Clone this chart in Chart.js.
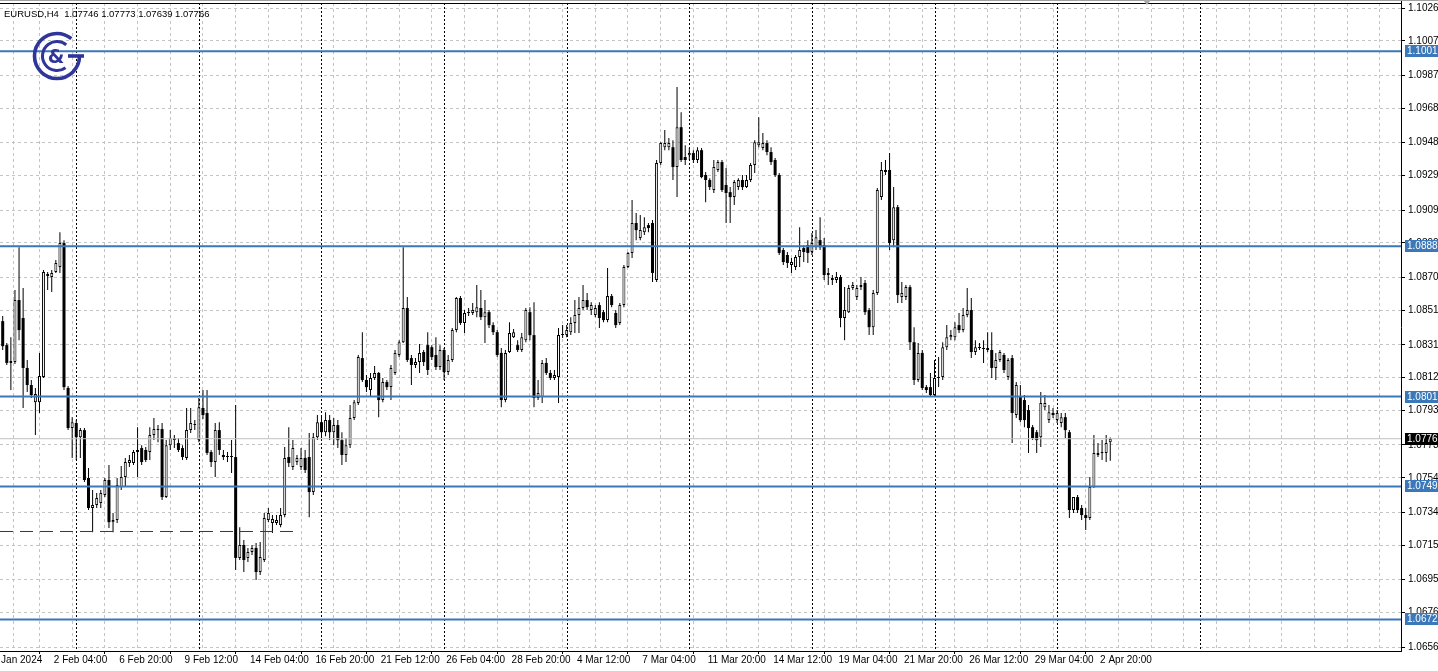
<!DOCTYPE html>
<html>
<head>
<meta charset="utf-8">
<script src="https://cdn.jsdelivr.net/npm/chart.js@4.4.1/dist/chart.umd.min.js"></script>
<style>
  html, body { margin: 0; padding: 0; background: #ffffff; }
  #wrap { width: 1438px; height: 671px; }
</style>
</head>
<body>
<div id="wrap"><canvas id="chart" width="1438" height="671"></canvas></div>
<script>
// EURUSD H4 candles, oldest first
const open = [
  1.08447, 1.08308, 1.08205, 1.08210, 1.08569, 1.08465, 1.08176, 1.08077, 1.07978, 1.07978,
  1.08123, 1.08708, 1.08702, 1.08731, 1.08760, 1.08899, 1.08060, 1.07828, 1.07857, 1.07775,
  1.07816, 1.07539, 1.07365, 1.07382, 1.07394, 1.07440, 1.07527, 1.07283, 1.07295, 1.07486,
  1.07544, 1.07626, 1.07626, 1.07689, 1.07712, 1.07701, 1.07689, 1.07787, 1.07816, 1.07822,
  1.07428, 1.07729, 1.07758, 1.07741, 1.07712, 1.07655, 1.07816, 1.07845, 1.07758, 1.07944,
  1.07915, 1.07689, 1.07631, 1.07816, 1.07672, 1.07660, 1.07660, 1.07660, 1.07076, 1.07151,
  1.07076, 1.07110, 1.07134, 1.06994, 1.07064, 1.07295, 1.07278, 1.07278, 1.07266, 1.07324,
  1.07660, 1.07602, 1.07631, 1.07602, 1.07655, 1.07660, 1.07457, 1.07775, 1.07862, 1.07804,
  1.07874, 1.07804, 1.07845, 1.07758, 1.07672, 1.07729, 1.07886, 1.07973, 1.08233, 1.08106,
  1.08048, 1.08118, 1.08147, 1.07990, 1.08094, 1.08065, 1.08147, 1.08251, 1.08325, 1.08523,
  1.08233, 1.08193, 1.08210, 1.08268, 1.08308, 1.08296, 1.08251, 1.08181, 1.08280, 1.08152,
  1.08222, 1.08395, 1.08581, 1.08436, 1.08494, 1.08494, 1.08499, 1.08523, 1.08470, 1.08499,
  1.08424, 1.08383, 1.08263, 1.07990, 1.08268, 1.08354, 1.08308, 1.08280, 1.08337, 1.08499,
  1.08366, 1.08002, 1.08007, 1.08205, 1.08147, 1.08118, 1.08123, 1.08366, 1.08366, 1.08383,
  1.08436, 1.08482, 1.08523, 1.08569, 1.08511, 1.08482, 1.08540, 1.08499, 1.08453, 1.08592,
  1.08494, 1.08436, 1.08540, 1.08760, 1.08842, 1.09015, 1.08928, 1.08962, 1.09003, 1.09015,
  1.08685, 1.09363, 1.09454, 1.09454, 1.09454, 1.09339, 1.09570, 1.09397, 1.09408, 1.09420,
  1.09380, 1.09437, 1.09293, 1.09264, 1.09206, 1.09322, 1.09368, 1.09235, 1.09194, 1.09165,
  1.09223, 1.09264, 1.09223, 1.09264, 1.09351, 1.09466, 1.09449, 1.09478, 1.09426, 1.09380,
  1.09293, 1.08859, 1.08830, 1.08772, 1.08760, 1.08818, 1.08870, 1.08887, 1.08847, 1.08875,
  1.08916, 1.08887, 1.08714, 1.08685, 1.08685, 1.08702, 1.08465, 1.08499, 1.08639, 1.08586,
  1.08644, 1.08668, 1.08511, 1.08412, 1.08610, 1.09165, 1.09310, 1.09322, 1.08916, 1.09107,
  1.08586, 1.08586, 1.08644, 1.08325, 1.08106, 1.08263, 1.08065, 1.08065, 1.08019, 1.08118,
  1.08123, 1.08296, 1.08354, 1.08354, 1.08424, 1.08395, 1.08482, 1.08511, 1.08268, 1.08291,
  1.08285, 1.08280, 1.08280, 1.08176, 1.08222, 1.08251, 1.08123, 1.08233, 1.07903, 1.08007,
  1.07990, 1.07932, 1.07833, 1.07804, 1.07775, 1.07949, 1.07874, 1.07915, 1.07874, 1.07857,
  1.07891, 1.07804, 1.07353, 1.07428, 1.07365, 1.07324, 1.07307, 1.07486, 1.07672, 1.07684,
  1.07684, 1.07746
];
const high = [
  1.08476, 1.08320, 1.08354, 1.08627, 1.08875, 1.08639, 1.08222, 1.08106, 1.08060, 1.08263,
  1.08743, 1.08731, 1.08743, 1.08801, 1.08962, 1.08916, 1.08071, 1.07891, 1.07874, 1.07828,
  1.07828, 1.07597, 1.07469, 1.07452, 1.07469, 1.07539, 1.07614, 1.07336, 1.07539, 1.07608,
  1.07655, 1.07672, 1.07701, 1.07833, 1.07729, 1.07718, 1.07833, 1.07886, 1.07845, 1.07857,
  1.07758, 1.07816, 1.07787, 1.07770, 1.07729, 1.07944, 1.07944, 1.07874, 1.08002, 1.08048,
  1.08048, 1.07701, 1.07857, 1.07862, 1.07701, 1.07689, 1.07758, 1.07961, 1.07254, 1.07180,
  1.07134, 1.07151, 1.07163, 1.07168, 1.07336, 1.07365, 1.07324, 1.07324, 1.07365, 1.07718,
  1.07833, 1.07758, 1.07672, 1.07712, 1.07701, 1.07799, 1.07799, 1.07903, 1.07903, 1.07920,
  1.07903, 1.07886, 1.07874, 1.07804, 1.07770, 1.07961, 1.07990, 1.08251, 1.08383, 1.08135,
  1.08147, 1.08187, 1.08152, 1.08118, 1.08106, 1.08193, 1.08280, 1.08337, 1.08875, 1.08586,
  1.08251, 1.08233, 1.08314, 1.08280, 1.08383, 1.08308, 1.08354, 1.08308, 1.08291, 1.08251,
  1.08407, 1.08586, 1.08592, 1.08511, 1.08523, 1.08552, 1.08656, 1.08627, 1.08569, 1.08511,
  1.08441, 1.08395, 1.08291, 1.08280, 1.08441, 1.08401, 1.08337, 1.08378, 1.08523, 1.08528,
  1.08557, 1.08106, 1.08222, 1.08233, 1.08164, 1.08164, 1.08407, 1.08424, 1.08424, 1.08470,
  1.08569, 1.08586, 1.08656, 1.08610, 1.08557, 1.08540, 1.08557, 1.08511, 1.08755, 1.08604,
  1.08511, 1.08552, 1.08772, 1.08847, 1.09148, 1.09073, 1.09061, 1.09049, 1.09015, 1.09032,
  1.09380, 1.09483, 1.09553, 1.09507, 1.09495, 1.09802, 1.09657, 1.09466, 1.09449, 1.09437,
  1.09454, 1.09449, 1.09310, 1.09275, 1.09380, 1.09380, 1.09380, 1.09333, 1.09223, 1.09264,
  1.09275, 1.09293, 1.09293, 1.09363, 1.09495, 1.09628, 1.09536, 1.09495, 1.09454, 1.09391,
  1.09305, 1.08870, 1.08847, 1.08813, 1.08830, 1.08991, 1.08887, 1.08916, 1.08957, 1.08974,
  1.09049, 1.08928, 1.08755, 1.08714, 1.08731, 1.08714, 1.08644, 1.08656, 1.08673, 1.08656,
  1.08702, 1.08685, 1.08523, 1.08627, 1.09218, 1.09368, 1.09380, 1.09420, 1.09223, 1.09119,
  1.08673, 1.08656, 1.08656, 1.08412, 1.08320, 1.08280, 1.08077, 1.08147, 1.08222, 1.08239,
  1.08325, 1.08424, 1.08395, 1.08441, 1.08494, 1.08523, 1.08639, 1.08581, 1.08337, 1.08320,
  1.08337, 1.08383, 1.08383, 1.08263, 1.08280, 1.08263, 1.08233, 1.08251, 1.08094, 1.08077,
  1.08019, 1.07961, 1.07845, 1.07816, 1.08036, 1.08019, 1.07961, 1.07944, 1.07932, 1.07915,
  1.07915, 1.07816, 1.07428, 1.07440, 1.07382, 1.07365, 1.07544, 1.07787, 1.07741, 1.07758,
  1.07787, 1.07773
];
const low = [
  1.08280, 1.08193, 1.08048, 1.08199, 1.08337, 1.07944, 1.08036, 1.08002, 1.07787, 1.07915,
  1.08118, 1.08627, 1.08615, 1.08726, 1.08726, 1.08048, 1.07816, 1.07655, 1.07643, 1.07655,
  1.07515, 1.07353, 1.07225, 1.07365, 1.07365, 1.07428, 1.07249, 1.07225, 1.07278, 1.07469,
  1.07486, 1.07602, 1.07614, 1.07544, 1.07614, 1.07631, 1.07643, 1.07758, 1.07746, 1.07411,
  1.07423, 1.07701, 1.07712, 1.07689, 1.07643, 1.07643, 1.07799, 1.07816, 1.07746, 1.07880,
  1.07672, 1.07602, 1.07544, 1.07672, 1.07643, 1.07631, 1.07568, 1.07006, 1.07064, 1.06994,
  1.07052, 1.07093, 1.06948, 1.06977, 1.07052, 1.07283, 1.07220, 1.07266, 1.07254, 1.07312,
  1.07602, 1.07585, 1.07614, 1.07585, 1.07568, 1.07312, 1.07440, 1.07758, 1.07770, 1.07781,
  1.07758, 1.07729, 1.07712, 1.07614, 1.07631, 1.07712, 1.07874, 1.07961, 1.08094, 1.08036,
  1.08007, 1.08106, 1.07891, 1.07978, 1.08048, 1.07990, 1.08135, 1.08239, 1.08320, 1.08210,
  1.08077, 1.08176, 1.08147, 1.08187, 1.08135, 1.08222, 1.08164, 1.08164, 1.08106, 1.08135,
  1.08210, 1.08383, 1.08424, 1.08378, 1.08476, 1.08482, 1.08470, 1.08453, 1.08320, 1.08407,
  1.08366, 1.08239, 1.07949, 1.07978, 1.08263, 1.08349, 1.08268, 1.08268, 1.08325, 1.08337,
  1.07949, 1.07990, 1.07973, 1.08135, 1.08106, 1.08106, 1.07973, 1.08349, 1.08354, 1.08366,
  1.08378, 1.08378, 1.08511, 1.08511, 1.08482, 1.08470, 1.08407, 1.08441, 1.08441, 1.08528,
  1.08407, 1.08424, 1.08528, 1.08755, 1.08813, 1.08916, 1.08916, 1.08945, 1.08962, 1.08673,
  1.08673, 1.09351, 1.09437, 1.09437, 1.09264, 1.09165, 1.09368, 1.09351, 1.09380, 1.09363,
  1.09363, 1.09275, 1.09136, 1.09206, 1.09189, 1.09310, 1.09194, 1.09015, 1.09015, 1.09119,
  1.09206, 1.09206, 1.09218, 1.09252, 1.09305, 1.09454, 1.09437, 1.09408, 1.09351, 1.09281,
  1.08830, 1.08772, 1.08755, 1.08726, 1.08743, 1.08760, 1.08789, 1.08784, 1.08830, 1.08859,
  1.08859, 1.08685, 1.08656, 1.08656, 1.08668, 1.08412, 1.08337, 1.08494, 1.08627, 1.08569,
  1.08627, 1.08482, 1.08366, 1.08366, 1.08598, 1.09148, 1.09293, 1.08859, 1.08875, 1.08552,
  1.08552, 1.08569, 1.08280, 1.08077, 1.08094, 1.08048, 1.08031, 1.08007, 1.08007, 1.08065,
  1.08106, 1.08280, 1.08337, 1.08337, 1.08378, 1.08383, 1.08470, 1.08233, 1.08251, 1.08280,
  1.08205, 1.08268, 1.08118, 1.08106, 1.08210, 1.08147, 1.08106, 1.07741, 1.07886, 1.07862,
  1.07833, 1.07684, 1.07758, 1.07684, 1.07718, 1.07932, 1.07857, 1.07886, 1.07857, 1.07833,
  1.07770, 1.07307, 1.07336, 1.07336, 1.07295, 1.07237, 1.07295, 1.07481, 1.07660, 1.07643,
  1.07631, 1.07639
];
const close = [
  1.08302, 1.08205, 1.08216, 1.08569, 1.08395, 1.08176, 1.08077, 1.08019, 1.08025, 1.08129,
  1.08731, 1.08720, 1.08726, 1.08784, 1.08899, 1.08065, 1.07828, 1.07862, 1.07775, 1.07816,
  1.07527, 1.07365, 1.07382, 1.07423, 1.07452, 1.07527, 1.07283, 1.07295, 1.07498, 1.07544,
  1.07631, 1.07643, 1.07689, 1.07701, 1.07631, 1.07643, 1.07787, 1.07822, 1.07822, 1.07428,
  1.07729, 1.07770, 1.07770, 1.07701, 1.07660, 1.07816, 1.07857, 1.07851, 1.07949, 1.07903,
  1.07684, 1.07631, 1.07816, 1.07701, 1.07660, 1.07666, 1.07666, 1.07076, 1.07151, 1.07064,
  1.07110, 1.07134, 1.06994, 1.07081, 1.07307, 1.07336, 1.07301, 1.07295, 1.07324, 1.07655,
  1.07626, 1.07712, 1.07655, 1.07655, 1.07585, 1.07457, 1.07775, 1.07862, 1.07804, 1.07874,
  1.07804, 1.07845, 1.07758, 1.07672, 1.07729, 1.07886, 1.07978, 1.08239, 1.08106, 1.08065,
  1.08118, 1.08147, 1.07990, 1.08094, 1.08065, 1.08176, 1.08263, 1.08325, 1.08523, 1.08222,
  1.08193, 1.08210, 1.08263, 1.08210, 1.08164, 1.08239, 1.08181, 1.08280, 1.08152, 1.08222,
  1.08395, 1.08581, 1.08436, 1.08494, 1.08499, 1.08511, 1.08528, 1.08470, 1.08499, 1.08424,
  1.08383, 1.08251, 1.07990, 1.08263, 1.08378, 1.08383, 1.08280, 1.08354, 1.08511, 1.08366,
  1.08002, 1.08031, 1.08205, 1.08147, 1.08118, 1.08135, 1.08366, 1.08372, 1.08395, 1.08436,
  1.08482, 1.08523, 1.08569, 1.08528, 1.08540, 1.08523, 1.08465, 1.08453, 1.08592, 1.08540,
  1.08424, 1.08540, 1.08760, 1.08842, 1.09015, 1.08974, 1.08974, 1.08991, 1.08986, 1.08726,
  1.09363, 1.09478, 1.09478, 1.09478, 1.09339, 1.09570, 1.09380, 1.09380, 1.09420, 1.09380,
  1.09437, 1.09281, 1.09264, 1.09223, 1.09339, 1.09368, 1.09206, 1.09189, 1.09165, 1.09252,
  1.09264, 1.09223, 1.09264, 1.09351, 1.09483, 1.09483, 1.09478, 1.09426, 1.09368, 1.09293,
  1.08842, 1.08789, 1.08784, 1.08789, 1.08818, 1.08859, 1.08847, 1.08842, 1.08899, 1.08933,
  1.08875, 1.08714, 1.08726, 1.08697, 1.08702, 1.08465, 1.08511, 1.08639, 1.08656, 1.08639,
  1.08656, 1.08499, 1.08412, 1.08610, 1.09206, 1.09322, 1.09322, 1.08899, 1.09107, 1.08598,
  1.08610, 1.08644, 1.08325, 1.08106, 1.08263, 1.08060, 1.08048, 1.08019, 1.08118, 1.08123,
  1.08296, 1.08354, 1.08366, 1.08412, 1.08395, 1.08482, 1.08511, 1.08268, 1.08296, 1.08296,
  1.08291, 1.08291, 1.08176, 1.08222, 1.08268, 1.08164, 1.08222, 1.07915, 1.08077, 1.07874,
  1.07874, 1.07828, 1.07770, 1.07758, 1.07973, 1.07973, 1.07920, 1.07903, 1.07915, 1.07891,
  1.07816, 1.07353, 1.07428, 1.07353, 1.07324, 1.07307, 1.07486, 1.07684, 1.07684, 1.07689,
  1.07741, 1.07766
];

// bottom time scale: label text and the bar it sits on
const timeLabels = ['Jan 2024', '2 Feb 04:00', '6 Feb 20:00', '9 Feb 12:00', '14 Feb 04:00',
  '16 Feb 20:00', '21 Feb 12:00', '26 Feb 04:00', '28 Feb 20:00', '4 Mar 12:00', '7 Mar 04:00',
  '11 Mar 20:00', '14 Mar 12:00', '19 Mar 04:00', '21 Mar 20:00', '26 Mar 12:00', '29 Mar 04:00',
  '2 Apr 20:00'];
const timeLabelBars = [0.1, 13, 29, 45, 61, 77, 93, 109, 125, 141, 157, 173, 189, 205, 221,
  237, 253, 269];

const priceTicks = [1.1026, 1.1007, 1.0987, 1.0968, 1.0948, 1.0929, 1.0909, 1.0890, 1.0870,
  1.0851, 1.0831, 1.0812, 1.0793, 1.0773, 1.0754, 1.0734, 1.0715, 1.0695, 1.0676, 1.0656];
const levels = [1.1001, 1.0888, 1.0801, 1.0749, 1.0672];
const lastPrice = 1.07766;
const lowLine = 1.07229;      // dashed line under the February lows
const lowLineEndBar = 71.8;
const markBar = 293;          // dotted vertical marker in the empty area on the right
const title = 'EURUSD,H4  1.07746 1.07773 1.07639 1.07766';

const xMin = -0.66, xMax = 342.14;
const yMin = 1.06537, yMax = 1.10289;
const FONT = 'Liberation Sans';
const LEVEL_BLUE = '#3a78b9';

const bars = open.map((_, i) => i);
const wicks = bars.map(i => ({ x: i, y: [low[i], high[i]] }));
const bullBodies = bars.filter(i => close[i] >= open[i]).map(i => ({ x: i, y: [open[i], close[i]] }));
const bearBodies = bars.filter(i => close[i] < open[i]).map(i => ({ x: i, y: [close[i], open[i]] }));
const flat = (v, from, to) => [{ x: from, y: v }, { x: to, y: v }];
const axisText = v => (Math.floor(v * 10000 + 1e-6) / 10000).toFixed(4);

// grid every 8 bars, week separators every 30 bars (Monday 00:00)
const gridBars = [];
for (let v = 5; v < xMax; v += 8) gridBars.push(v);
const separatorBars = [];
for (let v = 18; v < open.length; v += 30) separatorBars.push(v);
separatorBars.push(markBar);
const labelAt = new Map(timeLabelBars.map((v, i) => [v, timeLabels[i]]));
const xTicks = [timeLabelBars[0], ...gridBars];

const lineSet = (data, color, width, dash) => ({
  type: 'line', data, borderColor: color, borderWidth: width, borderDash: dash || [],
  pointRadius: 0, fill: false, order: 0
});

function drawLogo(ctx) {
  const cx = 57, cy = 56;
  ctx.save();
  ctx.strokeStyle = '#30359a';
  ctx.fillStyle = '#30359a';
  ctx.lineWidth = 3.6;
  ctx.beginPath();
  ctx.arc(cx, cy, 22.5, 0, Math.PI * 1.72);
  ctx.stroke();
  ctx.beginPath();
  ctx.moveTo(cx + 11, cy);
  ctx.lineTo(cx + 27, cy);
  ctx.stroke();
  ctx.lineWidth = 3;
  ctx.beginPath();
  ctx.arc(cx, cy, 14.5, Math.PI * 0.3, Math.PI * 1.72);
  ctx.stroke();
  ctx.font = 'bold 19px "DejaVu Sans"';
  ctx.textAlign = 'center';
  ctx.textBaseline = 'middle';
  ctx.fillText('&', cx - 1, cy + 2);
  ctx.restore();
}

function priceBox(ctx, y, text, bg) {
  const yy = Math.round(y);
  ctx.fillStyle = bg;
  ctx.fillRect(1405, yy - 6, 33, 12);
  ctx.fillStyle = '#ffffff';
  ctx.textAlign = 'left';
  ctx.textBaseline = 'middle';
  ctx.fillText(text, 1407, yy + 0.5);
}

const terminalLook = {
  id: 'terminalLook',
  beforeDatasetsDraw(chart) {
    const { ctx, chartArea: a, scales: { x } } = chart;
    ctx.save();
    ctx.strokeStyle = '#000000';
    ctx.lineWidth = 1;
    ctx.setLineDash([2, 2]);
    separatorBars.forEach(v => {
      const px = Math.round(x.getPixelForValue(v)) + 0.5;
      ctx.beginPath();
      ctx.moveTo(px, a.top);
      ctx.lineTo(px, a.bottom);
      ctx.stroke();
    });
    ctx.restore();
  },
  afterDraw(chart) {
    const { ctx, chartArea: a, scales: { y } } = chart;
    ctx.save();
    // frame
    ctx.strokeStyle = '#000000';
    ctx.lineWidth = 1;
    ctx.beginPath();
    ctx.moveTo(0, a.top + 0.5);
    ctx.lineTo(a.right + 1, a.top + 0.5);
    ctx.moveTo(a.right + 0.5, 0);
    ctx.lineTo(a.right + 0.5, a.top);
    ctx.stroke();
    ctx.strokeStyle = '#a0a0a0';
    ctx.beginPath();
    ctx.moveTo(0, 0.5);
    ctx.lineTo(1438, 0.5);
    ctx.stroke();
    // chart shift marker
    ctx.fillStyle = '#a8a8a8';
    ctx.beginPath();
    ctx.moveTo(1143, 0);
    ctx.lineTo(1151, 0);
    ctx.lineTo(1147, 5);
    ctx.closePath();
    ctx.fill();

    ctx.font = '9.5px "' + FONT + '"';
    ctx.fillStyle = '#000000';
    ctx.textBaseline = 'alphabetic';
    ctx.fillText(title, 4, 17);

    drawLogo(ctx);

    ctx.font = '10px "' + FONT + '"';
    levels.forEach(v => priceBox(ctx, y.getPixelForValue(v), axisText(v), LEVEL_BLUE));
    priceBox(ctx, y.getPixelForValue(lastPrice), axisText(lastPrice), '#000000');
    ctx.restore();
  }
};

new Chart(document.getElementById('chart'), {
  type: 'bar',
  data: {
    datasets: [
      ...levels.map(v => lineSet(flat(v, xMin - 1, xMax + 1), LEVEL_BLUE, 2)),
      lineSet(flat(lastPrice, xMin - 1, xMax + 1), '#c0c0c0', 1),
      lineSet(flat(lowLine, xMin, lowLineEndBar), '#2a2aa6', 1, [13, 7]),
      {
        label: 'up', data: bullBodies, backgroundColor: '#ffffff', borderColor: '#000000',
        borderWidth: 1, borderSkipped: false, barThickness: 3, grouped: false,
        minBarLength: 1, inflateAmount: 0, order: 1
      },
      {
        label: 'down', data: bearBodies, backgroundColor: '#000000', borderWidth: 0,
        barThickness: 3, grouped: false, minBarLength: 1, inflateAmount: 0, order: 1
      },
      {
        label: 'wick', data: wicks, backgroundColor: '#000000', borderWidth: 0,
        barThickness: 1, grouped: false, inflateAmount: 0, order: 2
      }
    ]
  },
  options: {
    responsive: false,
    animation: false,
    devicePixelRatio: 1,
    layout: { padding: { top: 3, left: 0, right: 0, bottom: 0 } },
    plugins: { legend: { display: false }, tooltip: { enabled: false } },
    scales: {
      x: {
        type: 'linear', min: xMin, max: xMax, offset: false,
        afterBuildTicks: s => { s.ticks = xTicks.map(v => ({ value: v })); },
        afterFit: s => { s.height = 20; s.paddingLeft = 0; s.paddingRight = 0; },
        ticks: {
          autoSkip: false, maxRotation: 0, minRotation: 0, align: 'start', padding: 0,
          labelOffset: -2, color: '#000000', font: { family: FONT, size: 10 },
          callback: v => labelAt.get(v) || ''
        },
        grid: {
          color: c => (c.tick && c.tick.value === timeLabelBars[0]) ? 'rgba(0,0,0,0)' : '#c4c4c4',
          lineWidth: 1, drawTicks: true, tickLength: 3,
          tickColor: c => (c.tick && labelAt.has(c.tick.value) && c.tick.value !== timeLabelBars[0]) ? '#000000' : 'rgba(0,0,0,0)'
        },
        border: { display: true, color: '#000000', width: 1, dash: [3, 3] }
      },
      y: {
        type: 'linear', position: 'right', min: yMin, max: yMax,
        afterBuildTicks: s => { s.ticks = priceTicks.map(v => ({ value: v })); },
        afterFit: s => { s.width = 37; s.paddingTop = 0; s.paddingBottom = 0; },
        ticks: {
          padding: 3, color: '#000000', font: { family: FONT, size: 10 },
          callback: v => v.toFixed(4)
        },
        grid: { color: '#c4c4c4', lineWidth: 1, drawTicks: true, tickLength: 4, tickColor: '#000000' },
        border: { display: true, color: '#000000', width: 1, dash: [3, 3] }
      }
    }
  },
  plugins: [terminalLook]
});
</script>
</body>
</html>
